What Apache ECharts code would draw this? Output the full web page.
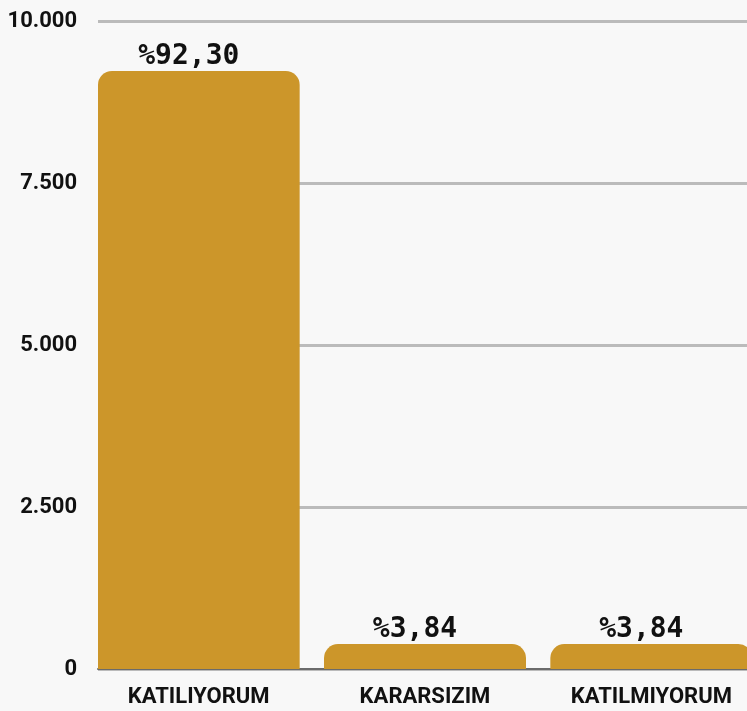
<!DOCTYPE html>
<html>
<head>
<meta charset="utf-8">
<script src="https://cdn.jsdelivr.net/npm/echarts@6/dist/echarts.min.js"></script>
<style>
  html, body { margin: 0; padding: 0; background: #f8f8f8; }
  #chart { width: 747px; height: 711px; }
</style>
</head>
<body>
<div id="chart"></div>
<script>
// veriler
var categories = ['KATILIYORUM', 'KARARSIZIM', 'KATILMIYORUM'];
var values = [9230, 384, 384];
var yTicks = [0, 2500, 5000, 7500, 10000];

function fmtThousands(v) {
  return String(v).replace(/\B(?=(\d{3})+(?!\d))/g, '.');
}
function fmtPercent(v) {
  return '%' + (v / 100).toFixed(2).replace('.', ',');
}

var axisFont = 'Roboto, sans-serif';

var chart = echarts.init(document.getElementById('chart'));
var option = {
  backgroundColor: '#f8f8f8',
  animation: false,
  grid: {
    left: 98,
    width: 679, // sağ kenar tuvalin dışına taşıyor
    top: 21,
    bottom: 42,
    containLabel: false,
    outerBoundsMode: 'none'
  },
  xAxis: {
    type: 'category',
    data: categories,
    axisTick: { show: false },
    axisLine: { lineStyle: { color: '#6b6b6b', width: 2 } },
    axisLabel: {
      interval: 0,
      margin: 17,
      padding: [0, 25, 0, 0], // etiketi çubuk merkezine kaydır
      color: '#111',
      fontFamily: axisFont,
      fontWeight: 'bold',
      fontSize: 22
    }
  },
  yAxis: {
    type: 'value',
    min: yTicks[0],
    max: yTicks[yTicks.length - 1],
    interval: 2500,
    axisLine: { show: false },
    axisTick: { show: false },
    splitLine: { lineStyle: { color: '#bbbbbb', width: 3 } },
    axisLabel: {
      margin: 21,
      color: '#111',
      fontFamily: axisFont,
      fontWeight: 'bold',
      fontSize: 22,
      formatter: fmtThousands
    }
  },
  series: [
    {
      type: 'bar',
      data: values,
      barWidth: 202,
      barGap: '0%',
      itemStyle: { color: '#cc962a', borderRadius: [14, 14, 0, 0] },
      label: {
        show: true,
        position: 'top',
        distance: 0,
        offset: [-10, 0],
        color: '#111',
        fontFamily: 'DejaVu Sans Mono',
        fontWeight: 'bold',
        fontSize: 28,
        formatter: function (p) { return fmtPercent(p.value); }
      }
    },
    {
      // boş seri: çubukları kategori içinde sola kaydırmak için
      type: 'bar',
      data: [0, 0, 0],
      barWidth: 25,
      itemStyle: { color: 'rgba(0,0,0,0)' },
      silent: true
    }
  ]
};
chart.setOption(option);
</script>
</body>
</html>
